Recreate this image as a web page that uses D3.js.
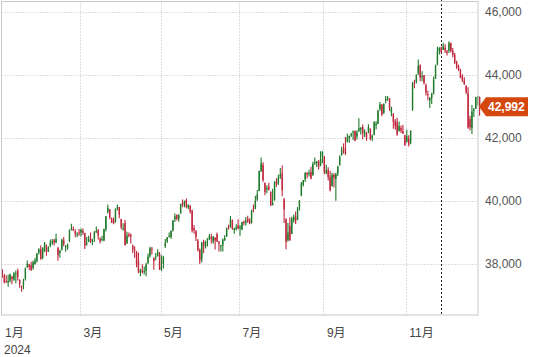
<!DOCTYPE html>
<html><head><meta charset="utf-8">
<script src="https://cdn.jsdelivr.net/npm/d3@7"></script>
<style>
html,body{margin:0;padding:0;background:#fff;}
svg{display:block;font-family:"Liberation Sans",Arial,"Noto Sans CJK JP",sans-serif;}
</style></head><body>
<svg id="c" width="541" height="357"></svg>
<script>
const dates = [
"01-02","01-03","01-04","01-05","01-08","01-09","01-10","01-11","01-12","01-16","01-17","01-18","01-19","01-22","01-23","01-24","01-25","01-26","01-29","01-30","01-31",
"02-01","02-02","02-05","02-06","02-07","02-08","02-09","02-12","02-13","02-14","02-15","02-16","02-20","02-21","02-22","02-23","02-26","02-27","02-28","02-29",
"03-01","03-04","03-05","03-06","03-07","03-08","03-11","03-12","03-13","03-14","03-15","03-18","03-19","03-20","03-21","03-22","03-25","03-26","03-27","03-28",
"04-01","04-02","04-03","04-04","04-05","04-08","04-09","04-10","04-11","04-12","04-15","04-16","04-17","04-18","04-19","04-22","04-23","04-24","04-25","04-26","04-29","04-30",
"05-01","05-02","05-03","05-06","05-07","05-08","05-09","05-10","05-13","05-14","05-15","05-16","05-17","05-20","05-21","05-22","05-23","05-24","05-28","05-29","05-30","05-31",
"06-03","06-04","06-05","06-06","06-07","06-10","06-11","06-12","06-13","06-14","06-17","06-18","06-20","06-21","06-24","06-25","06-26","06-27","06-28",
"07-01","07-02","07-03","07-05","07-08","07-09","07-10","07-11","07-12","07-15","07-16","07-17","07-18","07-19","07-22","07-23","07-24","07-25","07-26","07-29","07-30","07-31",
"08-01","08-02","08-05","08-06","08-07","08-08","08-09","08-12","08-13","08-14","08-15","08-16","08-19","08-20","08-21","08-22","08-23","08-26","08-27","08-28","08-29","08-30",
"09-03","09-04","09-05","09-06","09-09","09-10","09-11","09-12","09-13","09-16","09-17","09-18","09-19","09-20","09-23","09-24","09-25","09-26","09-27","09-30",
"10-01","10-02","10-03","10-04","10-07","10-08","10-09","10-10","10-11","10-14","10-15","10-16","10-17","10-18","10-21","10-22","10-23","10-24","10-25","10-28","10-29","10-30","10-31",
"11-01","11-04","11-05","11-06","11-07","11-08","11-11","11-12","11-13","11-14","11-15","11-18","11-19","11-20","11-21","11-22","11-25","11-26","11-27","11-29",
"12-02","12-03","12-04","12-05","12-06","12-09","12-10","12-11","12-12","12-13","12-16","12-17","12-18","12-19","12-20","12-23","12-24","12-26","12-27"
];
const open = [
37750,37620,37450,37420,37470,37600,37500,37680,37780,37500,37300,37340,37530,37900,37990,37960,37880,38000,38090,38360,38470,
38200,38440,38580,38390,38570,38680,38750,38690,38510,38350,38450,38750,38550,38530,38720,39100,39110,39040,38930,39000,
39000,39050,38980,38660,38710,38830,38690,38800,39000,39070,38800,38780,38750,39100,39650,39730,39440,39380,39320,39770,
39810,39430,39100,39300,38650,38930,38930,38580,38460,38370,38100,37730,37800,37770,37780,38040,38250,38480,38200,38230,38250,38320,
37830,38000,38560,38720,38860,38850,39060,39420,39560,39430,39600,39930,39890,40030,39800,39840,39700,39140,39030,38740,38450,38150,
38720,38540,38740,38800,38860,38710,38840,38950,38700,38560,38580,38770,38880,39160,39160,39380,39070,39120,39220,
39160,39090,39330,39310,39440,39380,39310,39780,39760,40050,40320,40940,41150,40580,40370,40460,40290,39880,40030,40610,40560,40780,
40880,40050,39420,38760,39200,38950,39390,39510,39400,39800,40170,40520,40680,40880,40870,40920,40820,41190,41200,41260,41140,41400,
41400,40890,40990,40770,40470,40830,40700,40880,41150,41460,41690,41630,41880,41990,42080,42180,42230,42050,42220,42270,
42350,42100,42140,42200,42300,41990,42100,42400,42450,42920,43060,42800,43180,43270,43260,42810,42780,42550,42500,42230,42320,42220,42090,
41880,41970,41850,42900,43750,43780,44050,44300,43940,43990,43670,43390,43190,43270,43420,43880,44330,44760,44880,44800,
44860,44750,44780,45010,44770,44650,44420,44280,44150,43970,43820,43660,43420,42600,42310,42860,42930,43290,43290
];
const high = [
37830,37690,37640,37660,37690,37620,37750,37790,37850,37510,37320,37530,37890,38110,38010,38070,38110,38200,38340,38500,38590,
38530,38700,38620,38560,38780,38790,38800,38960,38550,38450,38800,38860,38600,38650,39100,39280,39190,39100,39010,39110,
39130,39130,38990,38860,38900,39000,38800,39050,39190,39110,38850,38900,39120,39520,39890,39750,39480,39480,39760,39890,
39810,39430,39290,39400,39020,39000,38970,38620,38560,38410,38360,37850,37990,37920,38040,38330,38550,38540,38210,38350,38470,38380,
38280,38260,38790,38860,39000,39060,39390,39600,39570,39580,39910,40050,40010,40080,39900,39870,39720,39240,39080,38790,38490,38700,
38770,38740,38820,38950,38960,38890,38840,39000,38730,38610,38810,38910,39160,39250,39520,39410,39150,39260,39420,
39240,39340,39380,39490,39530,39450,39720,39890,40170,40350,40960,41380,41230,40580,40500,40580,40300,40390,40630,40720,40830,41050,
41130,40100,39450,39300,39480,39500,39570,39670,39810,40030,40600,40670,40910,40920,40990,41090,41250,41380,41270,41300,41580,41580,
41430,41150,41070,40960,40900,40880,40900,41120,41450,41720,41830,42030,42140,42080,42170,42240,42230,42250,42630,42340,
42430,42280,42200,42440,42300,42110,42530,42530,42900,43140,43080,43100,43330,43330,43260,42990,42780,42600,42640,42520,42400,42410,42100,
42270,42090,42250,43780,43850,44020,44490,44340,44120,44000,43730,43500,43300,43440,43950,44330,44900,44880,44900,45020,
44980,44790,45070,45030,44860,44700,44450,44330,44200,44020,43930,43670,43610,42710,43050,42950,43300,43340,43320
];
const low = [
37560,37380,37400,37280,37410,37360,37470,37390,37480,37250,37120,37200,37480,37880,37810,37780,37820,37980,38050,38300,38140,
38150,38380,38260,38380,38530,38600,38590,38660,38100,38200,38430,38560,38390,38450,38700,39060,39050,38850,38850,38900,
38870,38920,38480,38580,38690,38670,38600,38700,38990,38780,38650,38720,38720,39030,39600,39420,39300,39260,39320,39700,
39450,39100,39060,38590,38640,38850,38650,38350,38200,37900,37710,37610,37700,37670,37610,38000,38200,38300,37820,38120,38240,37810,
37780,37860,38510,38670,38850,38800,39030,39330,39380,39340,39600,39800,39800,39770,39750,39600,39000,38960,38730,38400,38000,38050,
38340,38490,38560,38760,38650,38640,38460,38700,38400,38400,38400,38730,38860,39090,39160,39090,38960,39060,39100,
38900,39080,39230,39220,39310,39260,39280,39640,39740,40000,40310,40930,40600,40180,40250,40330,39840,39860,40010,40450,40510,40700,
40150,39300,38470,38710,38730,38950,39310,39270,39390,39700,40150,40460,40600,40720,40780,40690,40800,41150,41080,41000,41100,41200,
40850,40850,40650,40300,40470,40430,40010,40790,41120,41440,41500,41460,41860,41850,42030,41940,41900,41950,42190,42110,
41960,42030,41910,42150,41930,41900,42090,42270,42440,42860,42700,42760,43100,43180,42860,42690,42290,42260,42070,42200,42160,42130,41760,
41860,41730,41800,42860,43580,43730,44000,43800,43800,43700,43350,43200,42950,43080,43380,43880,44310,44650,44700,44790,
44700,44620,44700,44720,44560,44350,44200,44130,43900,43780,43680,43400,42290,42240,42130,42670,42930,43040,42710
];
const close = [
37715,37430,37440,37466,37683,37525,37696,37711,37593,37361,37267,37469,37864,38001,37906,37806,38050,38109,38333,38467,38150,
38519,38654,38380,38521,38677,38726,38672,38797,38273,38424,38773,38628,38564,38612,39069,39131,39069,38972,38949,38996,
39087,38990,38585,38661,38791,38723,38770,39005,39043,38906,38715,38790,39110,39512,39781,39476,39313,39282,39760,39807,
39567,39170,39127,38597,38904,38892,38884,38462,38459,37983,37735,37799,37753,37775,37986,38240,38503,38461,38086,38240,38386,37816,
37903,38226,38676,38852,38884,39056,39388,39513,39432,39558,39908,39869,40004,39807,39873,39671,39065,39070,38853,38442,38112,38686,
38571,38712,38807,38886,38799,38868,38747,38712,38647,38589,38778,38834,39134,39150,39411,39112,39127,39164,39119,
39169,39331,39308,39375,39344,39291,39721,39753,40001,40212,40954,41198,40665,40288,40415,40358,39854,39935,40589,40540,40743,40842,
40348,39737,38703,38997,38763,39446,39498,39357,39765,40009,40563,40660,40896,40834,40890,40712,41175,41240,41250,41091,41335,41563,
40937,40975,40755,40345,40830,40737,40861,41097,41394,41622,41606,41504,42025,42063,42124,42208,41915,42175,42313,42330,
42156,42196,42012,42353,41954,42080,42512,42454,42864,43065,42740,43077,43239,43276,42931,42925,42514,42374,42114,42387,42233,42142,41763,
42052,41794,42222,43729,43729,43989,44293,43911,43958,43751,43445,43390,43269,43408,43870,44297,44737,44861,44722,44911,
44782,44705,45014,44766,44643,44401,44248,44149,43915,43828,43717,43450,42327,42343,42840,42907,43297,43325,42992
];
const yTicks = [38000, 40000, 42000, 44000, 46000];
const monthLabels = {"01":"1月","03":"3月","05":"5月","07":"7月","09":"9月","11":"11月"};
const yearLabel = "2024";
const markerDate = "11-27";

const svg = d3.select("#c");
const L = 1.5, R = 478, T = 1.5, B = 315;
const x = d3.scaleLinear().domain([0, dates.length - 1]).range([2.4, 479.6]);
const y = d3.scaleLinear().domain([38000, 46000]).range([264, 12]);
const fmt = d3.format(",");

const monthStarts = [];
dates.forEach((d, i) => {
  const m = d.slice(0, 2);
  if (i === 0 || dates[i - 1].slice(0, 2) !== m) monthStarts.push({m, i});
});
const gridMonths = monthStarts.filter(s => monthLabels[s.m]);

const grid = svg.append("g");
grid.selectAll("line.h").data(yTicks).join("line")
  .attr("x1", L).attr("x2", R)
  .attr("y1", d => Math.round(y(d)) + 0.5).attr("y2", d => Math.round(y(d)) + 0.5)
  .attr("stroke", "#bdbdbd").attr("stroke-dasharray", "1,2");
grid.selectAll("line.v").data(gridMonths.slice(1)).join("line")
  .attr("x1", d => Math.round(x(d.i - 0.5)) + 0.5).attr("x2", d => Math.round(x(d.i - 0.5)) + 0.5)
  .attr("y1", T).attr("y2", B)
  .attr("stroke", "#bdbdbd").attr("stroke-dasharray", "1,2");

const mi = dates.indexOf(markerDate);
svg.append("line")
  .attr("x1", Math.round(x(mi)) + 0.5).attr("x2", Math.round(x(mi)) + 0.5)
  .attr("y1", 0).attr("y2", B)
  .attr("stroke", "#222").attr("stroke-dasharray", "2,2");

const up = "#1f7a2a", dn = "#c0263c";
const cg = svg.append("g");
const idx = d3.range(dates.length);
cg.selectAll("line").data(idx).join("line")
  .attr("x1", i => x(i)).attr("x2", i => x(i))
  .attr("y1", i => y(high[i])).attr("y2", i => y(low[i]))
  .attr("stroke", i => close[i] > open[i] ? up : dn)
  .attr("stroke-width", 1.1);
cg.selectAll("rect").data(idx).join("rect")
  .attr("x", i => x(i) - 0.7).attr("width", 1.4)
  .attr("y", i => y(Math.max(open[i], close[i])))
  .attr("height", i => Math.max(1, Math.abs(y(open[i]) - y(close[i]))))
  .attr("fill", i => close[i] > open[i] ? up : dn);

svg.append("rect").attr("x", L).attr("y", T).attr("width", R - L).attr("height", B - T)
  .attr("fill", "none").attr("stroke", "#c8c8c8").attr("stroke-width", 1);

svg.selectAll("text.y").data(yTicks).join("text")
  .attr("x", 485).attr("y", d => y(d)).attr("dy", "0.35em")
  .attr("font-size", 12).attr("fill", "#555").text(d => fmt(d));

svg.selectAll("text.x").data(gridMonths).join("text")
  .attr("x", d => (d.i === 0 ? L : x(d.i - 0.5)) + 3.5).attr("y", 337)
  .attr("font-size", 12).attr("fill", "#444").text(d => monthLabels[d.m]);
svg.append("text").attr("x", 4).attr("y", 354).attr("font-size", 12).attr("fill", "#444").text(yearLabel);

const last = close[close.length - 1];
const ly = y(last);
svg.append("path")
  .attr("d", `M479,${ly} L486,${ly - 9.5} L528,${ly - 9.5} L528,${ly + 9.5} L486,${ly + 9.5} Z`)
  .attr("fill", "#d4480f");
svg.append("text").attr("x", 488).attr("y", ly).attr("dy", "0.36em")
  .attr("font-size", 12).attr("font-weight", "bold").attr("fill", "#fff").text(fmt(Math.round(last)));
</script>
</body></html>
